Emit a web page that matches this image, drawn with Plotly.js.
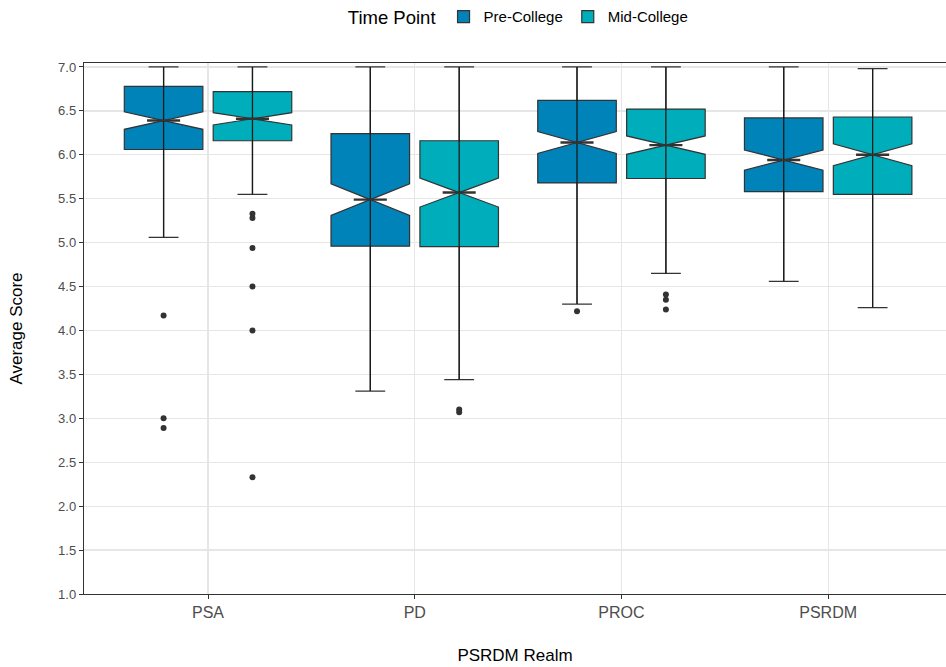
<!DOCTYPE html>
<html>
<head>
<meta charset="utf-8">
<script src="https://cdn.plot.ly/plotly-3.0.1.min.js"></script>
<style>html,body{margin:0;padding:0;background:#fff;}#chart{width:946px;height:667px;}</style>
</head>
<body>
<div id="chart"></div>
<script>
// Categories
const categories = ['PSA', 'PD', 'PROC', 'PSRDM'];

// Pre-College box statistics
const preQ1       = [6.06, 4.96, 5.68, 5.58];
const preMedian   = [6.39, 5.49, 6.14, 5.94];
const preQ3       = [6.78, 6.24, 6.62, 6.42];
const preLower    = [5.06, 3.31, 4.30, 4.56];
const preUpper    = [7.00, 7.00, 7.00, 7.00];
const preNotch    = [0.10, 0.18, 0.125, 0.115];
const preOutCat   = ['PSA', 'PSA', 'PSA', 'PROC'];
const preOutVal   = [4.17, 3.00, 2.89, 4.22];

// Mid-College box statistics
const midQ1       = [6.16, 4.955, 5.73, 5.55];
const midMedian   = [6.41, 5.57, 6.11, 6.00];
const midQ3       = [6.72, 6.16, 6.52, 6.43];
const midLower    = [5.55, 3.44, 4.65, 4.26];
const midUpper    = [7.00, 7.00, 7.00, 6.98];
const midNotch    = [0.07, 0.165, 0.105, 0.125];
const midOutCat   = ['PSA', 'PSA', 'PSA', 'PSA', 'PSA', 'PSA', 'PD', 'PD', 'PROC', 'PROC', 'PROC'];
const midOutVal   = [5.33, 5.28, 4.94, 4.50, 4.00, 2.33, 3.10, 3.07, 4.41, 4.35, 4.24];

// y-axis ticks
const yTicks = [1.0, 1.5, 2.0, 2.5, 3.0, 3.5, 4.0, 4.5, 5.0, 5.5, 6.0, 6.5, 7.0];

const groups = [
  {name: 'Pre-College', color: '#0083b8', off: -0.215, q1: preQ1, med: preMedian, q3: preQ3, lo: preLower, hi: preUpper, notch: preNotch, oc: preOutCat, ov: preOutVal},
  {name: 'Mid-College', color: '#00adba', off: 0.215, q1: midQ1, med: midMedian, q3: midQ3, lo: midLower, hi: midUpper, notch: midNotch, oc: midOutCat, ov: midOutVal}
];

const idx = c => categories.indexOf(c);
const traces = [];
groups.forEach(g => {
  const xs = categories.map((c, i) => i + g.off);
  traces.push({
    type: 'box', name: g.name, x: xs,
    q1: g.q1, median: g.med, q3: g.q3, lowerfence: g.lo, upperfence: g.hi,
    notched: true, notchspan: g.notch, notchwidth: 0.5,
    width: 0.38, whiskerwidth: 0.38, boxpoints: false,
    fillcolor: g.color, line: {color: '#333333', width: 1.2},
    hoverinfo: 'skip'
  });
});
groups.forEach(g => {
  // whisker line drawn through the box (errorbar style)
  const lx = [], ly = [];
  categories.forEach((c, i) => {
    lx.push(i + g.off, i + g.off, null);
    ly.push(g.lo[i], g.hi[i], null);
  });
  traces.push({
    type: 'scatter', mode: 'lines', x: lx, y: ly, showlegend: false,
    line: {color: '#1a1a1a', width: 1.3}, hoverinfo: 'skip', connectgaps: false
  });
  // median lines drawn on top
  const mx = [], my = [];
  categories.forEach((c, i) => {
    mx.push(i + g.off - 0.08, i + g.off + 0.08, null);
    my.push(g.med[i], g.med[i], null);
  });
  traces.push({
    type: 'scatter', mode: 'lines', x: mx, y: my, showlegend: false,
    line: {color: '#333333', width: 2.4}, hoverinfo: 'skip'
  });
  traces.push({
    type: 'scatter', mode: 'markers', x: g.oc.map(c => idx(c) + g.off), y: g.ov,
    showlegend: false, marker: {color: '#333333', size: 6}, hoverinfo: 'skip'
  });
});

const layout = {
  width: 946, height: 667,
  margin: {l: 84, r: 0, t: 63, b: 73},
  paper_bgcolor: '#ffffff', plot_bgcolor: '#ffffff',
  font: {family: 'Liberation Sans, Arial, sans-serif', color: '#000000'},
  boxmode: 'overlay',
  showlegend: true,
  legend: {
    orientation: 'h', x: 0.505, xanchor: 'center', y: 1.085, yanchor: 'middle',
    yref: 'paper', bgcolor: 'rgba(0,0,0,0)',
    title: {text: 'Time Point', font: {size: 18.5, color: '#000'}, side: 'left'},
    font: {size: 15, color: '#000'},
    itemwidth: 30, tracegroupgap: 0,
    traceorder: 'normal'
  },
  xaxis: {
    range: [-0.6, 3.57],
    tickmode: 'array', tickvals: categories.map((c, i) => i), ticktext: categories,
    tickfont: {size: 16, color: '#4d4d4d'},
    ticks: 'outside', ticklen: 4, tickcolor: '#333333', tickwidth: 1,
    showgrid: true, gridcolor: '#e6e6e6', gridwidth: 1.2,
    zeroline: false,
    showline: true, linecolor: '#333333', linewidth: 1.2, mirror: true,
    title: {text: 'PSRDM Realm', font: {size: 17, color: '#000'}, standoff: 28}
  },
  yaxis: {
    range: [1.0, 7.045],
    tickmode: 'array', tickvals: yTicks, ticktext: yTicks.map(v => v.toFixed(1)),
    tickfont: {size: 13, color: '#4d4d4d'},
    ticks: 'outside', ticklen: 4, tickcolor: '#333333', tickwidth: 1,
    showgrid: true, gridcolor: '#e6e6e6', gridwidth: 1.3,
    zeroline: false,
    showline: true, linecolor: '#333333', linewidth: 1.2, mirror: true,
    title: {text: 'Average Score', font: {size: 17, color: '#000'}, standoff: 31}
  }
};

Plotly.newPlot('chart', traces, layout, {displayModeBar: false, staticPlot: true});
</script>
</body>
</html>
